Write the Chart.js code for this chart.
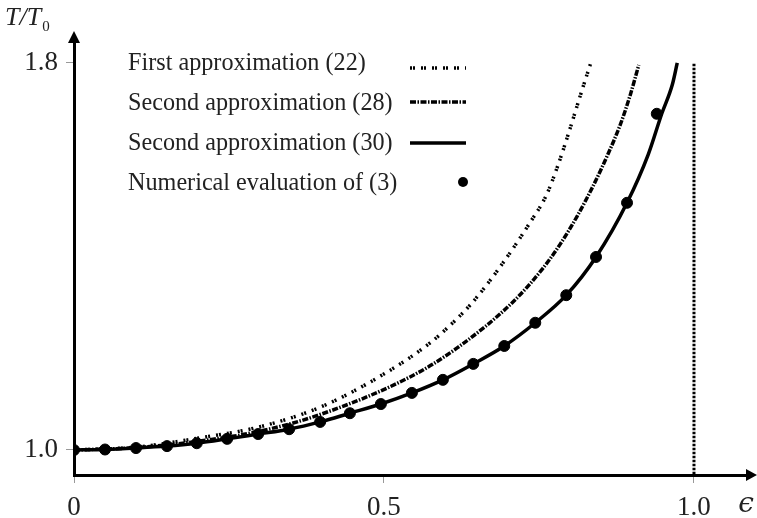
<!DOCTYPE html>
<html>
<head>
<meta charset="utf-8">
<script src="https://cdn.jsdelivr.net/npm/chart.js@4.4.0/dist/chart.umd.min.js"></script>
<style>
html, body { margin: 0; padding: 0; background: #fff; }
#wrap { width: 757px; height: 518px; }
</style>
</head>
<body>
<div id="wrap"><canvas id="grafico" width="757" height="518"></canvas></div>
<script>
// eixos
const xTicks = [0, 0.5, 1.0];
const yTicks = [1.0, 1.8];
const xMin = 0, xMax = 1.0839;
const yMin = 0.9483, yMax = 1.8413;

// primeira aproximacao (22)
const aprox22X = [0, 0.1, 0.203, 0.300, 0.400, 0.505, 0.574, 0.611, 0.642, 0.687, 0.735, 0.762, 0.781, 0.800, 0.816, 0.833];
const aprox22Y = [1.000, 1.006, 1.025, 1.048, 1.090, 1.161, 1.221, 1.263, 1.304, 1.378, 1.469, 1.527, 1.590, 1.664, 1.730, 1.798];

// segunda aproximacao (28)
const aprox28X = [0, 0.1, 0.2, 0.3, 0.394, 0.542, 0.618, 0.708, 0.756, 0.784, 0.811, 0.837, 0.860, 0.881, 0.897, 0.911];
const aprox28Y = [1.000, 1.005, 1.018, 1.039, 1.072, 1.151, 1.211, 1.306, 1.375, 1.425, 1.482, 1.545, 1.608, 1.672, 1.733, 1.796];

// segunda aproximacao (30)
const aprox30X = [0, 0.050, 0.100, 0.150, 0.198, 0.247, 0.297, 0.347, 0.397, 0.445, 0.495, 0.545, 0.595, 0.644, 0.694, 0.744, 0.794, 0.842, 0.892, 0.926, 0.948, 0.965, 0.973];
const aprox30Y = [1.000, 1.001, 1.004, 1.008, 1.014, 1.023, 1.033, 1.043, 1.058, 1.076, 1.095, 1.118, 1.145, 1.178, 1.215, 1.263, 1.320, 1.399, 1.511, 1.610, 1.695, 1.755, 1.800];

// avaliacao numerica de (3)
const numX = [0, 0.050, 0.100, 0.150, 0.198, 0.247, 0.297, 0.347, 0.397, 0.445, 0.495, 0.545, 0.595, 0.644, 0.694, 0.744, 0.794, 0.842, 0.892, 0.940];
const numY = [1.000, 1.001, 1.004, 1.008, 1.014, 1.023, 1.033, 1.043, 1.058, 1.076, 1.095, 1.118, 1.145, 1.178, 1.215, 1.263, 1.320, 1.399, 1.511, 1.695];

// assintota em epsilon = 1
const assintX = [1.0, 1.0];
const assintY = [0.95, 1.8];

const rotulos = [
    "First approximation (22)",
    "Second approximation (28)",
    "Second approximation (30)",
    "Numerical evaluation of (3)"
];

const pontos = (xs, ys) => xs.map((x, i) => ({ x, y: ys[i] }));

const fonte = "'Liberation Serif', 'DejaVu Serif', serif";

const estilos = [
    { borderWidth: 3.5, borderDash: [2, 1, 2, 6] },
    { borderWidth: 3.5, borderDash: [6, 1.5, 1.5, 1.5] },
    { borderWidth: 3.5, borderDash: [] }
];

const decoracao = {
    id: "decoracao",
    afterDraw(chart) {
        const ctx = chart.ctx;
        const a = chart.chartArea;
        ctx.save();
        ctx.fillStyle = "#000";

        // setas dos eixos
        ctx.beginPath();
        ctx.moveTo(a.left, a.top - 12);
        ctx.lineTo(a.left - 6, a.top);
        ctx.lineTo(a.left + 6, a.top);
        ctx.closePath();
        ctx.fill();

        ctx.beginPath();
        ctx.moveTo(a.right + 11, a.bottom);
        ctx.lineTo(a.right, a.bottom - 6);
        ctx.lineTo(a.right, a.bottom + 6);
        ctx.closePath();
        ctx.fill();

        // titulos dos eixos
        ctx.fillStyle = "#222";
        ctx.textBaseline = "alphabetic";
        ctx.textAlign = "left";
        ctx.font = "italic 26px " + fonte;
        ctx.fillText("T/T", 5, 25);
        const w = ctx.measureText("T/T").width;
        ctx.font = "15px " + fonte;
        ctx.fillText("0", 5 + w + 1, 31);
        ctx.font = "italic 28px 'DejaVu Serif', serif";
        ctx.textAlign = "center";
        ctx.fillText("\u03f5", 746, 512);
        ctx.textAlign = "left";

        // legenda
        const base = [70, 110, 150, 190];
        const amostra = [68, 102, 143, 182];
        ctx.font = "24.2px " + fonte;
        rotulos.forEach((t, i) => {
            ctx.fillStyle = "#222";
            ctx.fillText(t, 128, base[i]);
            ctx.strokeStyle = "#000";
            if (i < 3) {
                ctx.lineWidth = estilos[i].borderWidth;
                ctx.setLineDash(estilos[i].borderDash);
                ctx.beginPath();
                ctx.moveTo(410, amostra[i]);
                ctx.lineTo(466, amostra[i]);
                ctx.stroke();
            } else {
                ctx.setLineDash([]);
                ctx.fillStyle = "#000";
                ctx.beginPath();
                ctx.arc(463, amostra[i], 5, 0, Math.PI * 2);
                ctx.fill();
            }
        });
        ctx.restore();
    }
};

new Chart(document.getElementById("grafico"), {
    type: "scatter",
    data: {
        datasets: [
            {
                type: "line",
                data: pontos(assintX, assintY),
                borderColor: "#000",
                borderWidth: 3,
                borderDash: [2.5, 1.5],
                pointRadius: 0
            },
            {
                type: "line",
                data: pontos(aprox22X, aprox22Y),
                borderColor: "#000",
                ...estilos[0],
                pointRadius: 0,
                cubicInterpolationMode: "monotone"
            },
            {
                type: "line",
                data: pontos(aprox28X, aprox28Y),
                borderColor: "#000",
                ...estilos[1],
                pointRadius: 0,
                cubicInterpolationMode: "monotone"
            },
            {
                type: "line",
                data: pontos(aprox30X, aprox30Y),
                borderColor: "#000",
                ...estilos[2],
                pointRadius: 0,
                cubicInterpolationMode: "monotone"
            },
            {
                data: pontos(numX, numY),
                backgroundColor: "#000",
                borderColor: "#000",
                pointRadius: 5.5,
                pointHoverRadius: 5.5
            }
        ]
    },
    options: {
        responsive: false,
        devicePixelRatio: 1,
        animation: false,
        layout: { padding: { top: 43, right: 11, left: 0, bottom: 0 } },
        plugins: {
            legend: { display: false },
            tooltip: { enabled: false }
        },
        scales: {
            x: {
                type: "linear",
                min: xMin,
                max: xMax,
                afterBuildTicks: s => { s.ticks = xTicks.map(v => ({ value: v })); },
                afterFit: s => { s.height = 43; },
                ticks: {
                    color: "#222",
                    font: { family: fonte, size: 27 },
                    padding: 9,
                    maxRotation: 0,
                    autoSkip: false,
                    callback: v => v === 0 ? "0" : v.toFixed(1)
                },
                grid: {
                    drawOnChartArea: false,
                    tickLength: 8,
                    color: "#999",
                    lineWidth: 1
                },
                border: { display: true, color: "#000", width: 3 }
            },
            y: {
                type: "linear",
                min: yMin,
                max: yMax,
                afterBuildTicks: s => { s.ticks = yTicks.map(v => ({ value: v })); },
                afterFit: s => { s.width = 74; },
                ticks: {
                    color: "#222",
                    font: { family: fonte, size: 27 },
                    padding: 8,
                    autoSkip: false,
                    callback: v => v.toFixed(1)
                },
                grid: {
                    drawOnChartArea: false,
                    tickLength: 8,
                    color: "#999",
                    lineWidth: 1
                },
                border: { display: true, color: "#000", width: 3 }
            }
        }
    },
    plugins: [decoracao]
});
</script>
</body>
</html>
